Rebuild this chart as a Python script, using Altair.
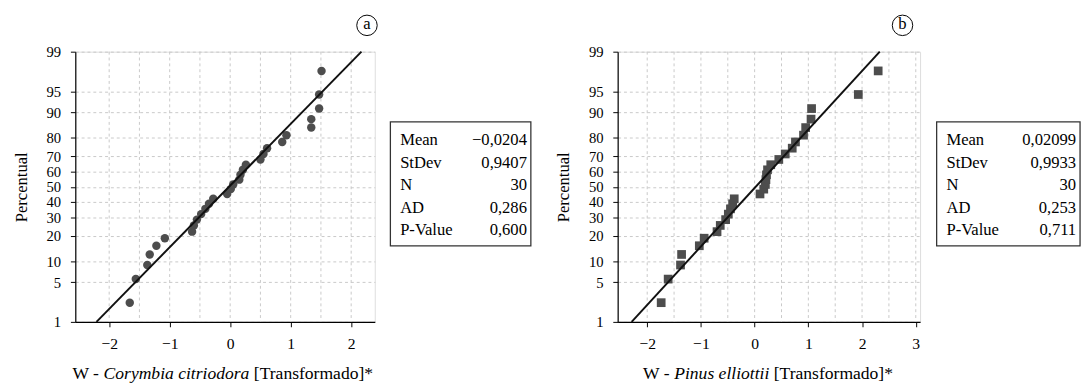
import altair as alt
import pandas as pd
from statistics import NormalDist

ND = NormalDist()
FONT = "Liberation Serif"

# plotting positions (%) of the 30 observations
percent = [2.3, 5.6, 8.9, 12.2, 15.5, 18.8, 22.0, 25.3, 28.6, 31.9, 35.2, 38.5, 41.8, 45.1, 48.4,
           51.6, 54.9, 58.2, 61.5, 64.8, 68.1, 71.4, 74.7, 78.0, 81.3, 84.6, 87.8, 91.1, 94.4, 97.7]
w_corymbia = [-1.66, -1.56, -1.37, -1.33, -1.22, -1.08, -0.63, -0.60, -0.55, -0.48, -0.41, -0.35, -0.28, -0.05, 0.01,
              0.05, 0.15, 0.17, 0.21, 0.26, 0.50, 0.55, 0.61, 0.86, 0.93, 1.34, 1.34, 1.47, 1.47, 1.51]
w_pinus = [-1.74, -1.61, -1.38, -1.36, -1.03, -0.94, -0.70, -0.64, -0.54, -0.49, -0.45, -0.41, -0.38, 0.10, 0.17,
           0.20, 0.21, 0.22, 0.24, 0.30, 0.45, 0.57, 0.70, 0.76, 0.91, 0.95, 1.05, 1.06, 1.93, 2.30]

# fitted lines (endpoints at 1 % and 99 %)
line_pct = [1, 99]
line_corymbia = [-2.21, 2.17]
line_pinus = [-2.29, 2.33]

tick_pct = [1, 5, 10, 20, 30, 40, 50, 60, 70, 80, 90, 95, 99]
xticks_a = [-2, -1, 0, 1, 2]
xticks_b = [-2, -1, 0, 1, 2, 3]
grid_a = [-2, -1.5, -1, -0.5, 0, 0.5, 1, 1.5, 2]
grid_b = [-2, -1.5, -1, -0.5, 0, 0.5, 1, 1.5, 2, 2.5, 3]

stat_labels = ["Mean", "StDev", "N", "AD", "P-Value"]
stats_a = ["\u22120,0204", "0,9407", "30", "0,286", "0,600"]
stats_b = ["0,02099", "0,9933", "30", "0,253", "0,711"]

Z_LO, Z_HI = ND.inv_cdf(0.01), ND.inv_cdf(0.99)


def probit(ps):
    return [ND.inv_cdf(p / 100) for p in ps]


def panel(wvals, line_w, grid_w, xdom, xtick_vals, shape, size, letter, letter_x,
          t_plain, t_ital, t_rest, tx0, tx1, tx2, W, H):
    pts = pd.DataFrame({"x": wvals, "y": probit(percent)})
    ln = pd.DataFrame({"x": line_w, "y": probit(line_pct)})
    gd = pd.DataFrame({"x": grid_w})
    xs = alt.Scale(domain=xdom, nice=False, zero=False)
    ys = alt.Scale(domain=[Z_LO, Z_HI], nice=False, zero=False)
    xax = alt.Axis(values=xtick_vals, grid=False, title=None, labelFontSize=16, labelPadding=9,
                   tickSize=5, tickColor="black", domainColor="black", labelColor="black",
                   domainWidth=1.2, labelFont=FONT, labelOverlap=False)
    yax = alt.Axis(values=probit(tick_pct), labelExpr="round(cumulativeNormal(datum.value)*100)",
                   grid=True, gridDash=[3, 3], gridColor="#c8c8c8", gridWidth=1,
                   title="Percentual", titleFontSize=17, titleFontWeight="normal", titleFont=FONT,
                   titleColor="black", titlePadding=16, labelFontSize=15, labelPadding=10,
                   labelFont=FONT, labelColor="black", tickSize=5, tickColor="black",
                   domainColor="black", domainWidth=1.2, labelOverlap=False)

    grid = alt.Chart(gd).mark_rule(color="#c8c8c8", strokeDash=[3, 3], strokeWidth=1).encode(
        x=alt.X("x:Q", scale=xs, axis=xax))
    points = alt.Chart(pts).mark_point(shape=shape, filled=True, size=size, color="#4d4d4d", opacity=1).encode(
        x=alt.X("x:Q", scale=xs, axis=xax), y=alt.Y("y:Q", scale=ys, axis=yax))
    line = alt.Chart(ln).mark_line(color="#111111", strokeWidth=2).encode(
        x=alt.X("x:Q", scale=xs, axis=xax), y=alt.Y("y:Q", scale=ys, axis=yax))
    circ = alt.Chart(pd.DataFrame({"t": [letter]})).mark_point(
        shape="circle", filled=False, size=440, color="black", strokeWidth=1, opacity=1).encode(
        x=alt.value(letter_x), y=alt.value(-27))
    let = alt.Chart(pd.DataFrame({"t": [letter]})).mark_text(
        font=FONT, fontSize=17, color="black", baseline="middle", align="center", dy=-1).encode(
        x=alt.value(letter_x), y=alt.value(-27), text="t:N")
    ty = H + 54
    t1 = alt.Chart(pd.DataFrame({"t": [t_plain]})).mark_text(
        font=FONT, fontSize=18, color="black", align="left", baseline="middle").encode(
        x=alt.value(tx0), y=alt.value(ty), text="t:N")
    t2 = alt.Chart(pd.DataFrame({"t": [t_ital]})).mark_text(
        font=FONT, fontSize=18, fontStyle="italic", color="black", align="left", baseline="middle").encode(
        x=alt.value(tx1), y=alt.value(ty), text="t:N")
    t3 = alt.Chart(pd.DataFrame({"t": [t_rest]})).mark_text(
        font=FONT, fontSize=18, color="black", align="left", baseline="middle").encode(
        x=alt.value(tx2), y=alt.value(ty), text="t:N")
    return alt.layer(grid, points, line, circ, let, t1, t2, t3).properties(width=W, height=H)


def stats_box(values, W, H, bx0, bx1):
    df = pd.DataFrame({"label": stat_labels, "value": values})
    ysc = alt.Scale(type="point", domain=stat_labels, range=[91, 183], padding=0)
    box = alt.Chart(pd.DataFrame({"k": [0]})).mark_rect(fill="white", stroke="#333333", strokeWidth=1.3).encode(
        x=alt.value(bx0), x2=alt.value(bx1), y=alt.value(72), y2=alt.value(199))
    lab = alt.Chart(df).mark_text(font=FONT, fontSize=17, color="black", align="left", baseline="middle").encode(
        x=alt.value(bx0 + 10), y=alt.Y("label:N", scale=ysc, axis=None), text="label:N")
    val = alt.Chart(df).mark_text(font=FONT, fontSize=17, color="black", align="right", baseline="middle").encode(
        x=alt.value(bx1 - 4), y=alt.Y("label:N", scale=ysc, axis=None), text="value:N")
    return alt.layer(box, lab, val).properties(width=W, height=H,
                                               view=alt.ViewBackground(stroke="transparent"))


pa = panel(w_corymbia, line_corymbia, grid_a, [-2.56, 2.39], xticks_a, "circle", 75, "a", 299,
           "W -", "Corymbia citriodora", "[Transformado]*", -3, 29, 183, 307, 277)
pb = panel(w_pinus, line_pinus, grid_b, [-2.55, 3.08], xticks_b, "square", 80, "b", 292,
           "W -", "Pinus elliottii", "[Transformado]*", 26, 58, 160, 310, 277)
ba = stats_box(stats_a, 177, 277, 10, 154)
bb = stats_box(stats_b, 162, 277, 15, 162)

chart = alt.hconcat(pa, ba, pb, bb, spacing=0).properties(
    padding={"left": 4, "top": 0, "right": 0, "bottom": 0}
).configure_view(stroke="#555555", strokeWidth=1.2).configure(font=FONT)

chart.save("out.html", embed_options={"renderer": "svg", "actions": False})
